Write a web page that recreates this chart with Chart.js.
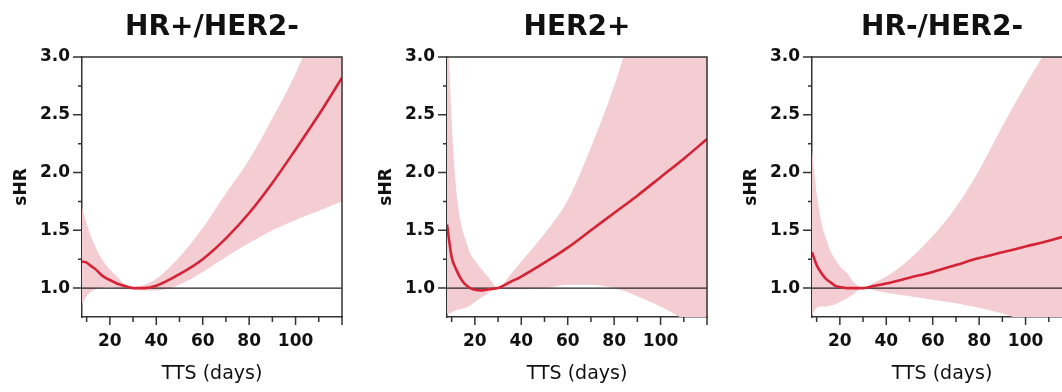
<!DOCTYPE html>
<html><head><meta charset="utf-8">
<script src="https://cdn.jsdelivr.net/npm/chart.js@4.4.1/dist/chart.umd.min.js"></script>
<style>
html,body{margin:0;padding:0;background:#fff;overflow:hidden;width:1062px;height:392px;position:relative;}
.p{position:absolute;top:0;width:365px;height:392px;}
</style></head><body>
<div class="p" style="left:0"><canvas id="c0" width="365" height="392"></canvas></div>
<div class="p" style="left:365px"><canvas id="c1" width="365" height="392"></canvas></div>
<div class="p" style="left:730px"><canvas id="c2" width="365" height="392"></canvas></div>
<script>
// ---- data ----
const panelTitles = ['HR+/HER2-', 'HER2+', 'HR-/HER2-'];
const tts = [8, 10, 12, 14, 16, 18, 20, 23, 26, 30, 35, 40, 50, 60, 70, 80, 90, 100, 110, 120];

const hrPosEst   = [1.23, 1.22, 1.19, 1.16, 1.12, 1.09, 1.07, 1.04, 1.02, 1.00, 1.00, 1.02, 1.12, 1.25, 1.43, 1.65, 1.91, 2.20, 2.50, 2.82];
const hrPosUpper = [1.70, 1.56, 1.44, 1.35, 1.27, 1.21, 1.16, 1.10, 1.04, 1.01, 1.03, 1.08, 1.27, 1.52, 1.82, 2.11, 2.47, 2.86, 3.35, 3.90];
const hrPosLower = [0.86, 0.93, 0.97, 0.99, 1.00, 1.01, 1.01, 1.00, 0.99, 0.99, 0.98, 0.98, 1.03, 1.14, 1.27, 1.39, 1.50, 1.59, 1.67, 1.75];

const her2Est   = [1.55, 1.27, 1.16, 1.08, 1.03, 1.00, 0.985, 0.98, 0.99, 1.00, 1.05, 1.10, 1.22, 1.35, 1.50, 1.65, 1.80, 1.96, 2.12, 2.29];
const her2Upper = [3.50, 2.45, 1.85, 1.56, 1.42, 1.30, 1.24, 1.16, 1.09, 1.00, 1.11, 1.23, 1.47, 1.76, 2.22, 2.75, 3.40, 4.10, 4.80, 5.50];
const her2Lower = [0.78, 0.79, 0.81, 0.82, 0.83, 0.85, 0.88, 0.92, 0.96, 1.00, 0.99, 0.99, 1.00, 1.03, 1.03, 1.00, 0.93, 0.84, 0.73, 0.62];

const tnEst   = [1.31, 1.20, 1.13, 1.08, 1.05, 1.02, 1.01, 1.00, 1.00, 1.00, 1.02, 1.04, 1.09, 1.14, 1.20, 1.26, 1.31, 1.36, 1.41, 1.47];
const tnUpper = [2.20, 1.82, 1.57, 1.43, 1.32, 1.25, 1.19, 1.13, 1.05, 1.00, 1.05, 1.10, 1.25, 1.45, 1.70, 2.02, 2.40, 2.76, 3.10, 3.50];
const tnLower = [0.76, 0.83, 0.84, 0.84, 0.85, 0.86, 0.88, 0.91, 0.95, 1.00, 0.98, 0.96, 0.93, 0.90, 0.87, 0.83, 0.78, 0.71, 0.63, 0.55];

const refX = [8, 120];
const refY = [1, 1];

const xLabelTicks = [20, 40, 60, 80, 100];
const xMajorTicks = [20, 40, 60, 80, 100, 120];
const xMinorTicks = [10, 30, 50, 70, 90, 110];
const yLabelTicks = [1.0, 1.5, 2.0, 2.5, 3.0];
const yMinorTicks = [1.25, 1.75, 2.25, 2.75];

// ---- drawing ----
const FONT = 'DejaVu Sans';
function pts(xs, ys) { return xs.map((x, i) => ({x: x, y: ys[i]})); }

function decorPlugin(title) {
  return {
    id: 'decor',
    afterDraw(chart) {
      const ctx = chart.ctx, a = chart.chartArea, xs = chart.scales.x, ys = chart.scales.y;
      ctx.save();
      ctx.strokeStyle = '#333';
      ctx.lineWidth = 1.5;
      ctx.beginPath();
      ctx.moveTo(a.right, a.top); ctx.lineTo(a.right, a.bottom + 0.75);
      ctx.moveTo(a.left - 0.75, a.top); ctx.lineTo(a.right + 0.75, a.top);
      xMajorTicks.forEach(v => { const p = xs.getPixelForValue(v); ctx.moveTo(p, a.bottom); ctx.lineTo(p, a.bottom + 8); });
      xMinorTicks.forEach(v => { const p = xs.getPixelForValue(v); ctx.moveTo(p, a.bottom); ctx.lineTo(p, a.bottom + 5); });
      yLabelTicks.forEach(v => { const p = ys.getPixelForValue(v); ctx.moveTo(a.left, p); ctx.lineTo(a.left - 9, p); });
      yMinorTicks.forEach(v => { const p = ys.getPixelForValue(v); ctx.moveTo(a.left, p); ctx.lineTo(a.left - 4, p); });
      ctx.stroke();
      ctx.fillStyle = '#111';
      ctx.font = 'bold 28px "' + FONT + '"';
      ctx.textAlign = 'center';
      ctx.textBaseline = 'alphabetic';
      ctx.fillText(title, (a.left + a.right) / 2, 35);
      ctx.restore();
    }
  };
}

function makeChart(id, title, est, up, lo) {
  return new Chart(document.getElementById(id), {
    type: 'line',
    data: {
      datasets: [
        {data: pts(tts, est), borderColor: '#d42236', borderWidth: 2.6, pointRadius: 0, cubicInterpolationMode: 'monotone', fill: false, order: 0},
        {data: pts(refX, refY), borderColor: '#222', borderWidth: 1.2, pointRadius: 0, fill: false, order: 1},
        {data: pts(tts, up), borderWidth: 0, borderColor: 'rgba(0,0,0,0)', backgroundColor: '#f4cdd3', pointRadius: 0, cubicInterpolationMode: 'monotone', fill: '+1', order: 2},
        {data: pts(tts, lo), borderWidth: 0, borderColor: 'rgba(0,0,0,0)', backgroundColor: 'rgba(0,0,0,0)', pointRadius: 0, cubicInterpolationMode: 'monotone', fill: false, order: 3}
      ]
    },
    options: {
      responsive: false,
      animation: false,
      events: [],
      layout: {padding: {top: 57, right: 23, left: 0, bottom: 0}},
      plugins: {legend: {display: false}, tooltip: {enabled: false}, title: {display: false}},
      scales: {
        x: {
          type: 'linear', min: 8, max: 120,
          afterFit: s => { s.height = 75; },
          afterBuildTicks: s => { s.ticks = xLabelTicks.map(v => ({value: v})); },
          grid: {display: true, drawOnChartArea: false, drawTicks: false},
          border: {display: true, color: '#333', width: 1.5},
          ticks: {padding: 14, color: '#111', maxRotation: 0, autoSkip: false, callback: v => String(v),
                  font: {family: FONT, size: 17, weight: 'bold'}},
          title: {display: true, text: 'TTS (days)', color: '#111', font: {family: FONT, size: 19}, padding: {top: 0, bottom: 7}}
        },
        y: {
          type: 'linear', min: 0.75, max: 3.0,
          afterFit: s => { s.width = 82; },
          afterBuildTicks: s => { s.ticks = yLabelTicks.map(v => ({value: v})); },
          grid: {display: true, drawOnChartArea: false, drawTicks: false},
          border: {display: true, color: '#333', width: 1.5},
          ticks: {padding: 12, color: '#111', callback: v => Number(v).toFixed(1),
                  font: {family: FONT, size: 17, weight: 'bold'}},
          title: {display: true, text: 'sHR', color: '#111', font: {family: FONT, size: 17, weight: 'bold'}, padding: {top: 11, bottom: 0}}
        }
      }
    },
    plugins: [decorPlugin(title)]
  });
}

makeChart('c0', panelTitles[0], hrPosEst, hrPosUpper, hrPosLower);
makeChart('c1', panelTitles[1], her2Est, her2Upper, her2Lower);
makeChart('c2', panelTitles[2], tnEst, tnUpper, tnLower);
</script>
</body></html>
